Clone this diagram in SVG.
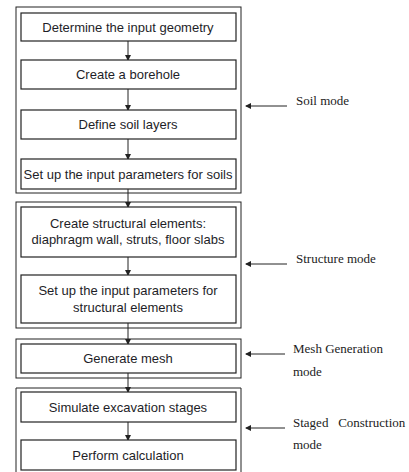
<svg xmlns="http://www.w3.org/2000/svg" width="409" height="472" viewBox="0 0 409 472">
<style>
.frame{fill:none;stroke:#222;stroke-width:1}
.box{fill:#fff;stroke:#222;stroke-width:1.2}
.t{font-family:"Liberation Sans",Arial,sans-serif;font-size:13px;fill:#1e1e28;text-anchor:middle}
.m{font-family:"Liberation Serif","Times New Roman",serif;font-size:13px;fill:#222}
.c{stroke:#222;stroke-width:1;fill:none}
</style>
<defs>
<marker id="ah" markerWidth="6" markerHeight="6" refX="5" refY="3" orient="auto" markerUnits="userSpaceOnUse">
<path d="M0,0 L6,3 L0,6 z" fill="#222"/>
</marker>
</defs>
<rect width="409" height="472" fill="#fff"/>
<g id="frames">
<rect class="frame" x="16" y="7" width="225" height="186"/>
<rect class="frame" x="16" y="202" width="225" height="126"/>
<rect class="frame" x="16" y="339" width="225" height="39"/>
<path class="frame" d="M16,472 V388 H241 V472"/>
</g>
<g id="connectors">
<line class="c" x1="128" y1="41" x2="128" y2="60" marker-end="url(#ah)"/>
<line class="c" x1="128" y1="89" x2="128" y2="110" marker-end="url(#ah)"/>
<line class="c" x1="128" y1="139" x2="128" y2="159" marker-end="url(#ah)"/>
<line class="c" x1="128" y1="189" x2="128" y2="207" marker-end="url(#ah)"/>
<line class="c" x1="128" y1="257" x2="128" y2="275" marker-end="url(#ah)"/>
<line class="c" x1="128" y1="323" x2="128" y2="344" marker-end="url(#ah)"/>
<line class="c" x1="128" y1="373" x2="128" y2="392" marker-end="url(#ah)"/>
<line class="c" x1="128" y1="422" x2="128" y2="440" marker-end="url(#ah)"/>
<line class="c" x1="287" y1="106" x2="246" y2="106" marker-end="url(#ah)"/>
<line class="c" x1="287" y1="264" x2="246" y2="264" marker-end="url(#ah)"/>
<line class="c" x1="285" y1="354" x2="246" y2="354" marker-end="url(#ah)"/>
<line class="c" x1="285" y1="428" x2="246" y2="428" marker-end="url(#ah)"/>
</g>
<g id="n1"><rect class="box" x="21" y="13" width="215" height="28"/><text class="t" x="128" y="32">Determine the input geometry</text></g>
<g id="n2"><rect class="box" x="21" y="60" width="215" height="29"/><text class="t" x="128" y="79">Create a borehole</text></g>
<g id="n3"><rect class="box" x="21" y="110" width="215" height="29"/><text class="t" x="128" y="129">Define soil layers</text></g>
<g id="n4"><rect class="box" x="21" y="159" width="215" height="30"/><text class="t" x="128" y="179">Set up the input parameters for soils</text></g>
<g id="n5"><rect class="box" x="21" y="207" width="215" height="50"/><text class="t" x="128" y="228">Create structural elements:</text><text class="t" x="128" y="244">diaphragm wall, struts, floor slabs</text></g>
<g id="n6"><rect class="box" x="21" y="275" width="215" height="48"/><text class="t" x="128" y="295">Set up the input parameters for</text><text class="t" x="128" y="312">structural elements</text></g>
<g id="n7"><rect class="box" x="21" y="344" width="215" height="29"/><text class="t" x="128" y="363">Generate mesh</text></g>
<g id="n8"><rect class="box" x="21" y="392" width="215" height="30"/><text class="t" x="128" y="412">Simulate excavation stages</text></g>
<g id="n9"><rect class="box" x="21" y="440" width="215" height="30"/><text class="t" x="128" y="460">Perform calculation</text></g>
<g id="labels">
<text class="m" x="296" y="105">Soil mode</text>
<text class="m" x="296" y="263">Structure mode</text>
<text class="m" x="293" y="353">Mesh  Generation</text>
<text class="m" x="293" y="376">mode</text>
<text class="m" x="293" y="427" xml:space="preserve">Staged   Construction</text>
<text class="m" x="293" y="449">mode</text>
</g>
</svg>
